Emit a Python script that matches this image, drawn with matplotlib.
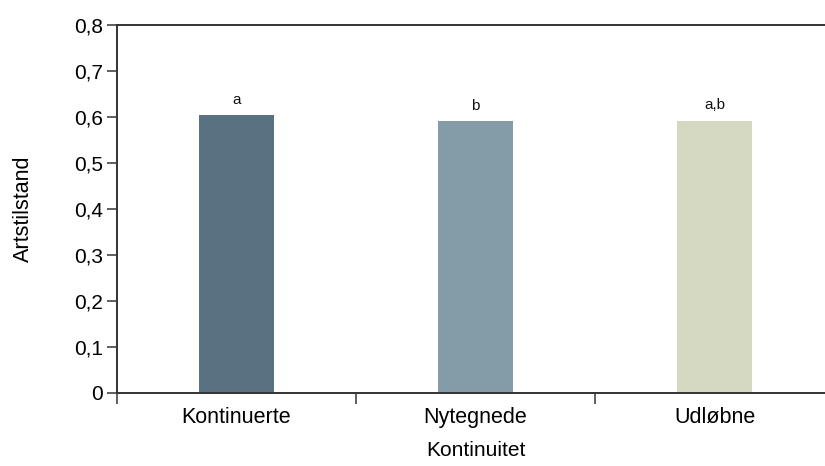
import matplotlib
matplotlib.use("Agg")
import matplotlib.pyplot as plt
from matplotlib.ticker import FixedLocator, FuncFormatter

plt.rcParams['font.family'] = ['Liberation Sans', 'DejaVu Sans']

categories = ["Kontinuerte", "Nytegnede", "Udløbne"]
values = [0.603, 0.590, 0.592]
letters = ["a", "b", "a,b"]
colors = ["#587282", "#849ba8", "#d5d9c2"]
yticks = [0, 0.1, 0.2, 0.3, 0.4, 0.5, 0.6, 0.7, 0.8]

fig = plt.figure(figsize=(8.25, 4.66), dpi=100)
ax = fig.add_axes([117 / 825, 1 - 392.5 / 466, (834 - 117) / 825, (392.5 - 25) / 466])

x = list(range(len(categories)))
bars = ax.bar(x, values, width=0.31, color=colors, edgecolor="none", zorder=2)

for xi, v, lab in zip(x, values, letters):
    ax.annotate(lab, (xi, v), xytext=(0, 8), textcoords="offset points",
                ha="center", va="baseline", fontsize=11, color="#111111")

ax.set_xlim(-0.5, len(categories) - 0.5)
ax.set_ylim(0, 0.8)

ax.yaxis.set_major_locator(FixedLocator(yticks))
ax.yaxis.set_major_formatter(FuncFormatter(lambda v, p: "0" if abs(v) < 1e-9 else f"{v:.1f}".replace(".", ",")))

ax.set_xticks(x)
ax.set_xticklabels(categories)
ax.set_xticks([i - 0.5 for i in range(len(categories) + 1)], minor=True)
ax.tick_params(axis="x", which="major", length=0, pad=10.5, labelsize=15.5)
ax.tick_params(axis="x", which="minor", length=8, width=1.2, color="#444444", direction="out")
ax.tick_params(axis="y", which="major", length=7, width=1.2, color="#444444", direction="out",
               labelsize=15, pad=3)

for side in ["left", "top", "bottom"]:
    ax.spines[side].set_color("#333333")
    ax.spines[side].set_linewidth(1.4)
ax.spines["right"].set_visible(False)

ax.set_ylabel("Artstilstand", fontsize=15.5, labelpad=29)
ax.set_xlabel("Kontinuitet", fontsize=15, labelpad=9.5)

fig.savefig("out.png", dpi=100)
